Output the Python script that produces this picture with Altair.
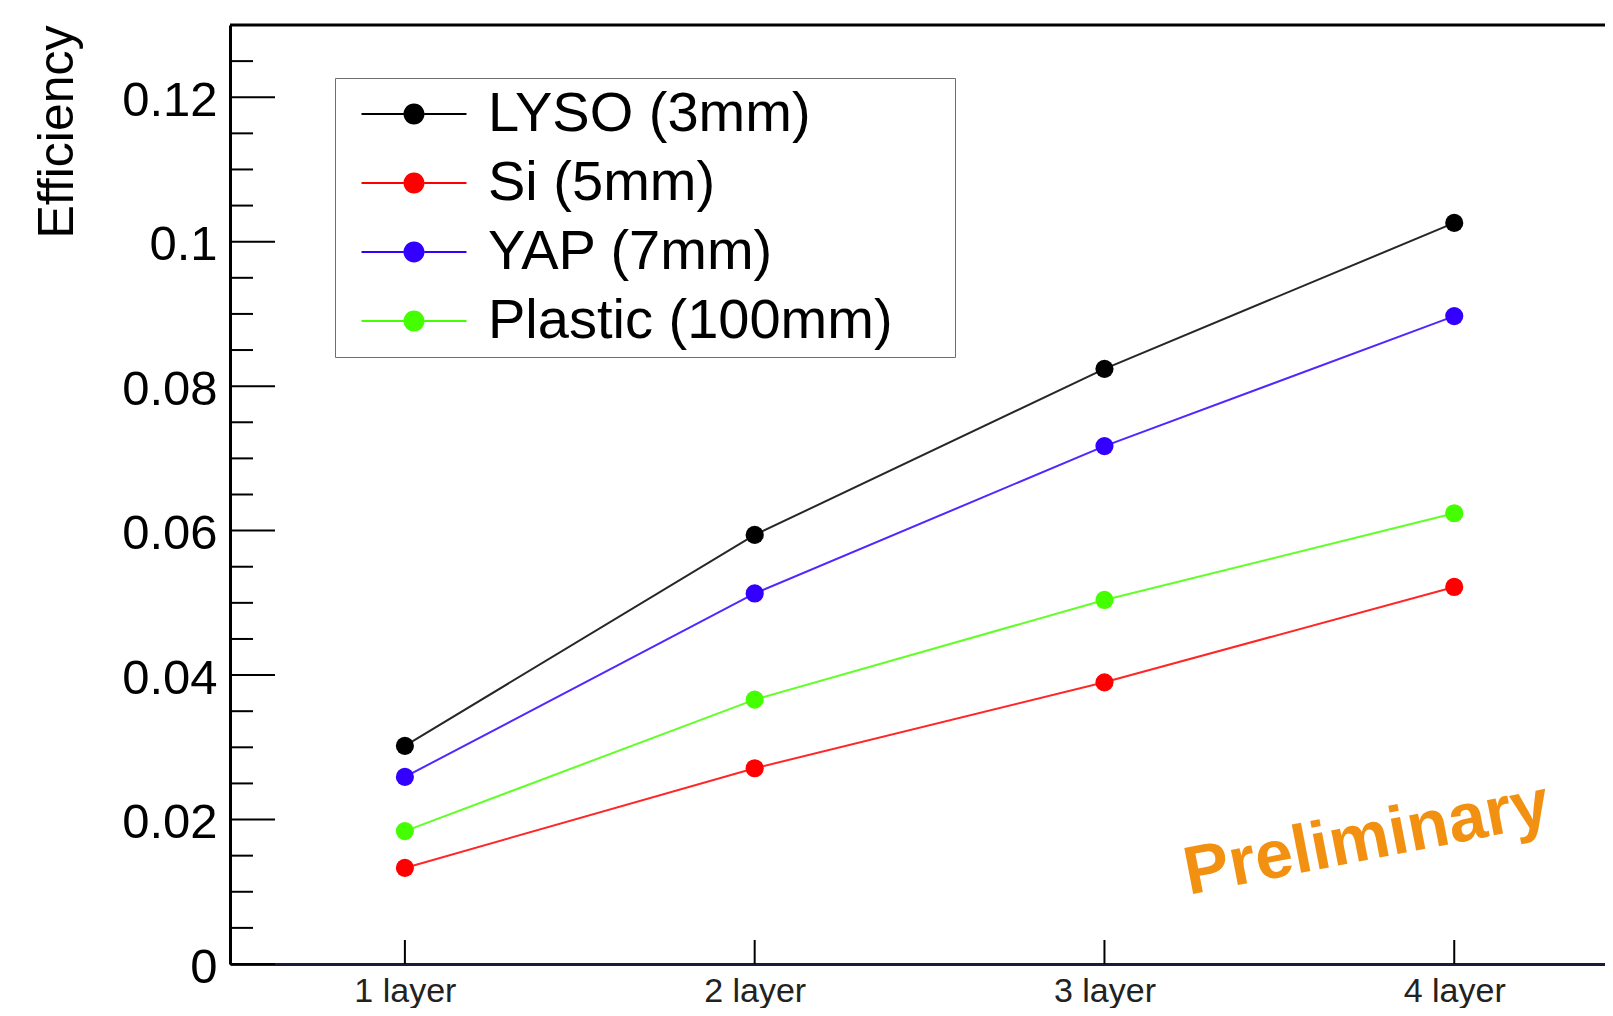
import json
import altair as alt
import pandas as pd

# ---- data ----
layers = ["1 layer", "2 layer", "3 layer", "4 layer"]
layer_index = [1, 2, 3, 4]
series = ["LYSO (3mm)", "Si (5mm)", "YAP (7mm)", "Plastic (100mm)"]
lyso = [0.0302, 0.0594, 0.0824, 0.1026]
si = [0.0133, 0.0271, 0.0390, 0.0522]
yap = [0.0259, 0.0513, 0.0717, 0.0897]
plastic = [0.0184, 0.0366, 0.0504, 0.0624]
colors = ["#000000", "#ff0000", "#3300ff", "#44ff00"]

y_major_ticks = [0, 0.02, 0.04, 0.06, 0.08, 0.10, 0.12]
y_minor_ticks = [0.005, 0.01, 0.015, 0.025, 0.03, 0.035, 0.045, 0.05, 0.055,
                 0.065, 0.07, 0.075, 0.085, 0.09, 0.095, 0.105, 0.11, 0.115, 0.125]
y_top = [0.13]

note_text = ["Preliminary"]
note_x = [3.75]
note_y = [0.0172]

FONT = "Liberation Sans"

rows = []
for name, vals in zip(series, [lyso, si, yap, plastic]):
    for i, v in zip(layer_index, vals):
        rows.append({"series": name, "layer": i, "eff": v})
df = pd.DataFrame(rows)

xscale = alt.Scale(domain=[0.5, 4.431], nice=False, zero=False)
yscale = alt.Scale(domain=[0, 0.13], nice=False)
cscale = alt.Scale(domain=series, range=colors)

label_expr = json.dumps(layers) + "[datum.value - 1]"

symbol_path = ("M-5,-0.1H-1V0.1H-5Z M1,-0.1H5V0.1H1Z "
               "M-1,0A1,1,0,1,0,1,0A1,1,0,1,0,-1,0Z")

legend = alt.Legend(title=".", titleOrient="right", titlePadding=51,
                    titleColor="#ffffff", titleFontSize=10,
                    orient="none", legendX=105, legendY=53,
                    symbolType=symbol_path, symbolSize=441,
                    symbolOffset=43, labelOffset=46,
                    labelFont=FONT, labelFontSize=56,
                    labelColor="#000000", labelLimit=900,
                    padding=8, rowPadding=13,
                    strokeColor="#6e6e6e", fillColor="#ffffff",
                    symbolOpacity=1, symbolStrokeWidth=0)

x_enc = alt.X("layer:Q", scale=xscale,
              axis=alt.Axis(values=layer_index, labelExpr=label_expr, title=None,
                            ticks=False, grid=False, domainColor="#1a1a3c",
                            domainWidth=3, labelFont=FONT, labelFontSize=34,
                            labelColor="#222222", labelPadding=37,
                            labelBaseline="alphabetic"))
y_enc = alt.Y("eff:Q", scale=yscale,
              axis=alt.Axis(values=y_major_ticks, format="~g", title="Efficiency",
                            ticks=False, grid=False, domainColor="#000000",
                            domainWidth=3, labelFont=FONT, labelFontSize=49,
                            labelColor="#000000", labelPadding=13, labelOffset=3,
                            titleFont=FONT, titleFontSize=50, titleFontWeight="normal",
                            titleColor="#000000", titleAngle=270, titleAlign="right",
                            titleBaseline="alphabetic", titleX=-158, titleY=0))

lines = alt.Chart(df).mark_line(strokeWidth=2, opacity=0.85).encode(
    x=x_enc, y=y_enc,
    color=alt.Color("series:N", scale=cscale, legend=legend),
    detail="series:N",
)

points = alt.Chart(df).mark_point(filled=True, size=330, opacity=1, shape="circle").encode(
    x=alt.X("layer:Q", scale=xscale),
    y=alt.Y("eff:Q", scale=yscale),
    color=alt.Color("series:N", scale=cscale, legend=legend),
)

ymaj = alt.Chart(pd.DataFrame({"t": y_major_ticks})).mark_rule(
    color="#000000", strokeWidth=2).encode(
    y=alt.Y("t:Q", scale=yscale), x=alt.value(0), x2=alt.value(45))
ymin = alt.Chart(pd.DataFrame({"t": y_minor_ticks})).mark_rule(
    color="#000000", strokeWidth=2).encode(
    y=alt.Y("t:Q", scale=yscale), x=alt.value(0), x2=alt.value(23))
xt = alt.Chart(pd.DataFrame({"t": layer_index})).mark_rule(
    color="#000000", strokeWidth=2).encode(
    x=alt.X("t:Q", scale=xscale), y=alt.value(939), y2=alt.value(915))
top = alt.Chart(pd.DataFrame({"t": y_top})).mark_rule(
    color="#000000", strokeWidth=3).encode(y=alt.Y("t:Q", scale=yscale))

note = alt.Chart(pd.DataFrame({"x": note_x, "y": note_y, "t": note_text})).mark_text(
    font=FONT, fontSize=68, fontWeight="bold", color="#f29111", angle=349,
    align="center", baseline="middle").encode(
    x=alt.X("x:Q", scale=xscale), y=alt.Y("y:Q", scale=yscale), text="t:N")

chart = alt.layer(ymin, ymaj, xt, top, lines, points, note).properties(
    width=1375, height=939,
    padding={"left": 222, "top": 17, "right": 0, "bottom": 44},
    autosize=alt.AutoSizeParams(type="none"),
).configure_view(stroke="transparent").configure(background="#ffffff")

chart.save("out.html", embed_options={"renderer": "svg", "actions": False})
